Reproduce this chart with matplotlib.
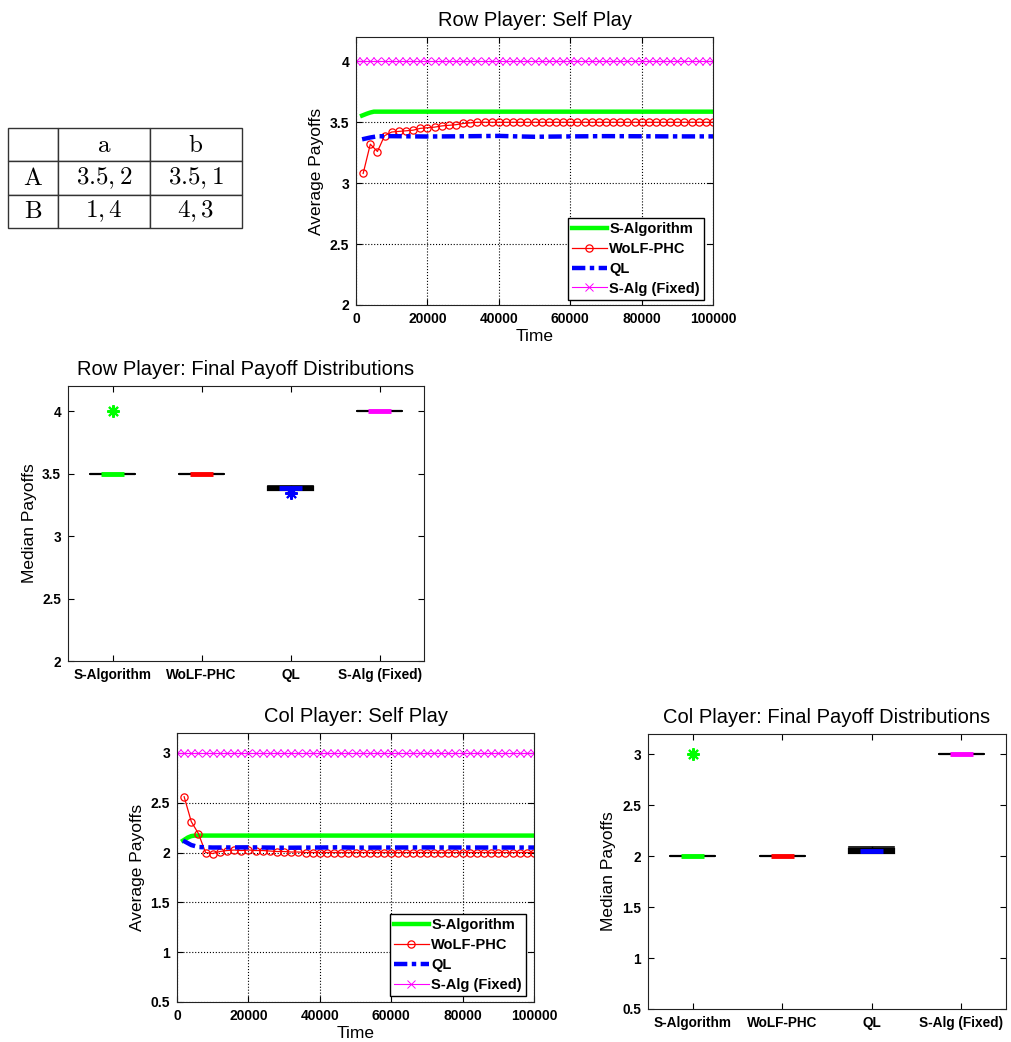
import numpy as np
import matplotlib.pyplot as plt

plt.rcParams['font.family'] = ['Liberation Sans', 'DejaVu Sans']
plt.rcParams['mathtext.fontset'] = 'cm'

# game table
col_names = ['a', 'b']
row_names = ['A', 'B']
payoffs = [['3.5, 2', '3.5, 1'], ['1, 4', '4, 3']]

algs = ['S-Algorithm', 'WoLF-PHC', 'QL', 'S-Alg (Fixed)']
colors = ['#00ff00', '#ff0000', '#0000ff', '#ff00ff']

# self play, row player
sa_t = [1700, 3000, 4000, 5000, 100000]
sa_row = [3.555, 3.57, 3.58, 3.587, 3.587]
wolf_t = list(range(2000, 100001, 2000))
wolf_row = [3.08, 3.32, 3.26, 3.39, 3.42, 3.425, 3.43, 3.435, 3.45, 3.455,
            3.46, 3.47, 3.475, 3.48, 3.49, 3.495] + [3.5] * 34
ql_t = [1700, 4000, 6000, 10000, 20000, 30000, 40000, 45000, 50000, 60000,
        70000, 80000, 90000, 100000]
ql_row = [3.36, 3.375, 3.385, 3.386, 3.383, 3.385, 3.388, 3.384, 3.381, 3.384,
          3.386, 3.385, 3.384, 3.384]
fixed_t = list(range(0, 100001, 2000))
fixed_row = [4.0] * 51

# self play, col player
sa_col = [2.12, 2.15, 2.165, 2.17, 2.17]
wolf_col = [2.56, 2.31, 2.19, 2.0, 1.99, 2.01, 2.02, 2.025, 2.02, 2.025,
            2.02, 2.02, 2.015, 2.01, 2.01, 2.005, 2.005] + [2.0] * 33
ql_col = [2.12, 2.075, 2.055, 2.05, 2.052, 2.048, 2.05, 2.052, 2.049, 2.05,
          2.051, 2.05, 2.05, 2.05]
fixed_col = [3.0] * 51

# final payoff distributions (med, q1, q3, low, high, outliers)
row_med = [3.5, 3.5, 3.385, 4.0]
row_q1 = [3.5, 3.5, 3.372, 4.0]
row_q3 = [3.5, 3.5, 3.395, 4.0]
row_lo = [3.5, 3.5, 3.37, 4.0]
row_hi = [3.5, 3.5, 3.4, 4.0]
row_out = [[4.0], [], [3.345], []]

col_med = [2.0, 2.0, 2.05, 3.0]
col_q1 = [2.0, 2.0, 2.035, 3.0]
col_q3 = [2.0, 2.0, 2.07, 3.0]
col_lo = [2.0, 2.0, 2.035, 3.0]
col_hi = [2.0, 2.0, 2.09, 3.0]
col_out = [[3.0], [], [], []]

fig = plt.figure(figsize=(10.12, 10.42), dpi=100)

# table
tax = fig.add_axes([0.0079, 0.7812, 0.2312, 0.096])
tax.axis('off')
cells = [[''] + [r'$\mathrm{%s}$' % c for c in col_names]]
for r, vals in zip(row_names, payoffs):
    cells.append([r'$\mathrm{%s}$' % r] + ['$%s$' % v for v in vals])
tbl = tax.table(cellText=cells, cellLoc='center', bbox=[0, 0, 1, 1],
                colWidths=[50, 92, 92])
tbl.auto_set_font_size(False)
tbl.set_fontsize(18)
for cell in tbl.get_celld().values():
    cell.set_linewidth(1.0)
    cell.set_edgecolor('#333333')


def style_axes(ax, size=10):
    ax.tick_params(direction='in', top=True, right=True, length=4, labelsize=size, pad=5)
    for lab in ax.get_xticklabels() + ax.get_yticklabels():
        lab.set_fontweight('bold')
    for s in ax.spines.values():
        s.set_linewidth(0.8)
        s.set_color('#222222')


def self_play(rect, title, sa, wolf, ql, fixed, ylim, yticks, anchor):
    ax = fig.add_axes(rect)
    ax.plot(sa_t, sa, color=colors[0], lw=3.2, label=algs[0])
    ax.plot(wolf_t, wolf, color=colors[1], lw=0.9, marker='o', ms=5.2,
            mfc='none', mew=0.9, label=algs[1])
    ax.plot(ql_t, ql, color=colors[2], lw=3.2, ls=(0, (3, 1, 1, 1)), label=algs[2])
    ax.plot(fixed_t, fixed, color=colors[3], lw=0.8, marker='x', ms=5.5,
            mew=0.7, label=algs[3])
    ax.set_xlim(0, 100000)
    ax.set_ylim(*ylim)
    ax.set_yticks(yticks)
    ax.set_yticklabels(['%g' % v for v in yticks])
    ax.set_xticks(range(0, 100001, 20000))
    ax.set_xticklabels(['%d' % v for v in range(0, 100001, 20000)])
    ax.grid(True, ls=':', color='black', lw=0.8)
    ax.set_title(title, fontsize=14.5, pad=8)
    ax.set_xlabel('Time', fontsize=12.5, labelpad=2)
    ax.set_ylabel('Average Payoffs', fontsize=12.5)
    style_axes(ax)
    leg = ax.legend(loc='lower right', bbox_to_anchor=anchor, borderaxespad=0,
                    fancybox=False, framealpha=1, edgecolor='black',
                    prop={'weight': 'bold', 'size': 10.5}, handlelength=2.4,
                    handletextpad=0.15, labelspacing=0.4, borderpad=0.3)
    leg.get_frame().set_linewidth(1.0)
    return ax


def final_dist(rect, title, med, q1, q3, lo, hi, out, ylim, yticks):
    ax = fig.add_axes(rect)
    stats = []
    for i in range(4):
        stats.append({'med': med[i], 'q1': q1[i], 'q3': q3[i],
                      'whislo': lo[i], 'whishi': hi[i], 'fliers': out[i]})
    bp = ax.bxp(stats, positions=[1, 2, 3, 4], widths=0.5, capwidths=0.5,
                patch_artist=True,
                boxprops={'facecolor': 'black', 'edgecolor': 'black', 'lw': 1.6},
                whiskerprops={'color': 'black', 'lw': 1},
                capprops={'color': 'black', 'lw': 1.2},
                medianprops={'visible': False},
                flierprops={'marker': (8, 2, 0), 'ms': 9, 'mew': 1.5})
    for i, fl in enumerate(bp['fliers']):
        fl.set_markeredgecolor(colors[i])
    ax.hlines(med, np.array([1, 2, 3, 4]) - 0.13, np.array([1, 2, 3, 4]) + 0.13,
              colors=colors, lw=3.5, zorder=5)
    ax.set_xlim(0.5, 4.5)
    ax.set_ylim(*ylim)
    ax.set_yticks(yticks)
    ax.set_yticklabels(['%g' % v for v in yticks])
    ax.set_xticks([1, 2, 3, 4])
    ax.set_xticklabels(algs)
    ax.set_title(title, fontsize=14.5, pad=8)
    ax.set_ylabel('Median Payoffs', fontsize=12.5)
    style_axes(ax, 9.8)
    return ax


self_play([0.3518, 0.7073, 0.3528, 0.2572], 'Row Player: Self Play',
          sa_row, wolf_row, ql_row, fixed_row, (2, 4.2),
          [2, 2.5, 3, 3.5, 4], (0.975, 0.019))
final_dist([0.0672, 0.3656, 0.3518, 0.2639], 'Row Player: Final Payoff Distributions',
           row_med, row_q1, row_q3, row_lo, row_hi, row_out, (2, 4.2),
           [2, 2.5, 3, 3.5, 4])
self_play([0.1749, 0.0384, 0.3528, 0.2582], 'Col Player: Self Play',
          sa_col, wolf_col, ql_col, fixed_col, (0.5, 3.2),
          [0.5, 1, 1.5, 2, 2.5, 3], (0.978, 0.022))
final_dist([0.6403, 0.0317, 0.3538, 0.2639], 'Col Player: Final Payoff Distributions',
           col_med, col_q1, col_q3, col_lo, col_hi, col_out, (0.5, 3.2),
           [0.5, 1, 1.5, 2, 2.5, 3])

plt.savefig('out.png', dpi=100)
